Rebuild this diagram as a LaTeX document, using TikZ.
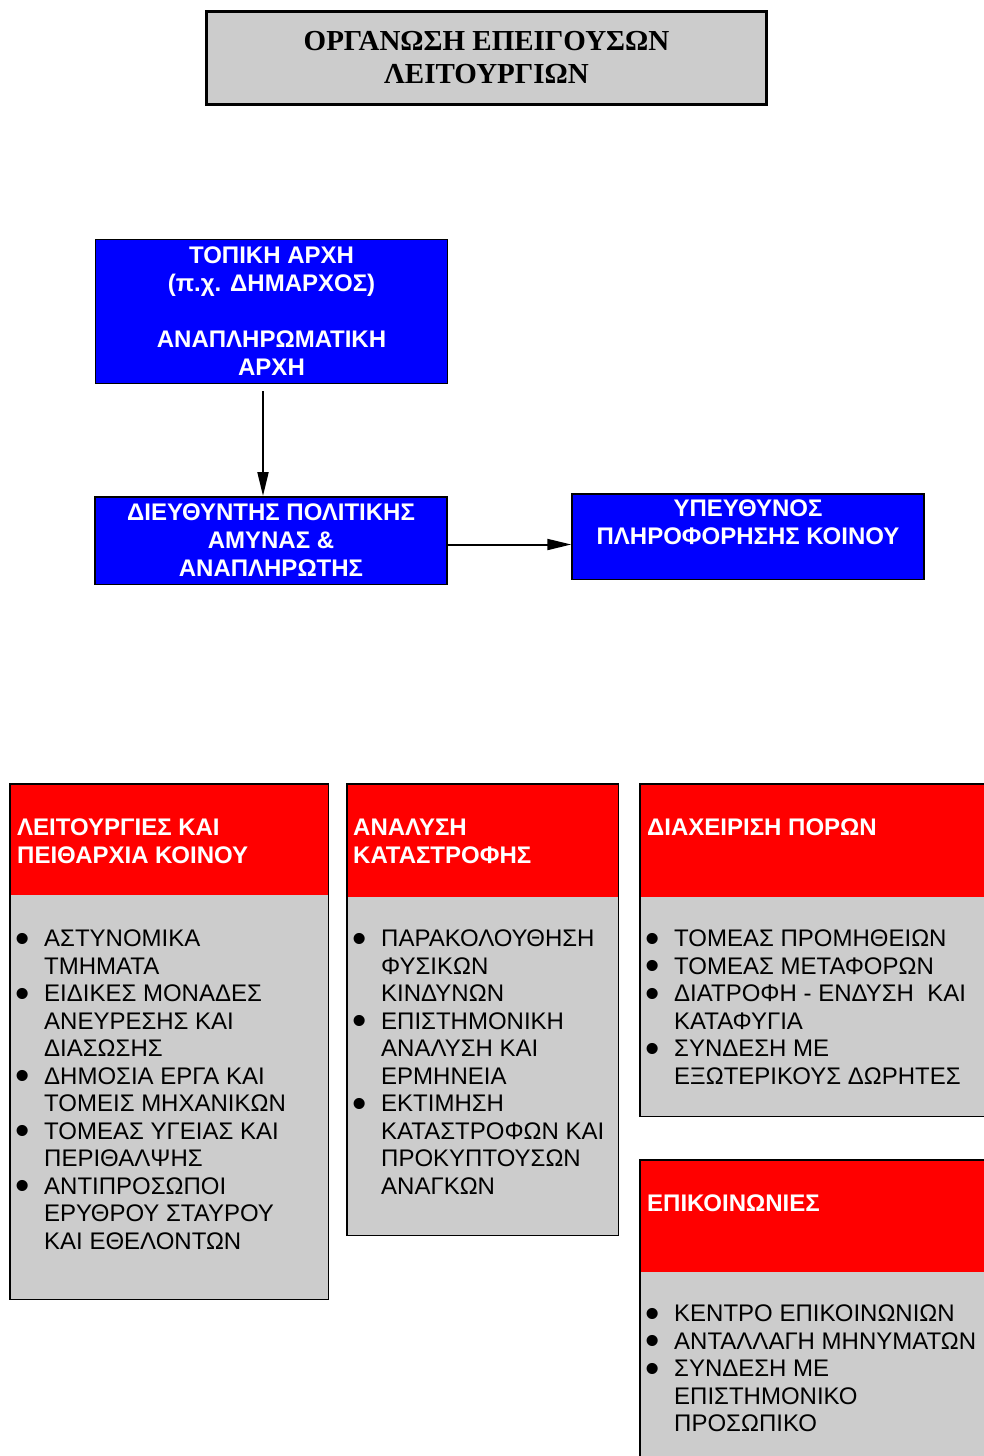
\documentclass[tikz,border=0pt]{standalone}
\usepackage{fontspec}
\setmainfont{Liberation Serif}
\setsansfont{Liberation Sans}
\usepackage{graphicx}
\usepackage{tikz}
\definecolor{gr}{RGB}{204, 204, 204}
\definecolor{bl}{RGB}{0, 0, 255}
\definecolor{rd}{RGB}{255, 0, 0}
\usetikzlibrary{arrows.meta}
\newcommand{\bul}{\makebox[26pt][l]{\hspace*{-3pt}\smash{\raisebox{-5.5pt}{\scalebox{1.7}{\textbullet}}}}}
\newcommand{\ind}{\hspace*{26pt}}

\begin{document}
\begin{tikzpicture}
			[x=1pt, y=-1pt, every node/.style={inner sep=0pt},
			bluebox/.style={draw=black, line width=1.5pt, fill=bl, text=white, align=center, minimum width=352pt, font=\sffamily\bfseries\fontsize{24}{28}\selectfont},
			panel/.style={draw=black, line width=1.5pt, fill=gr, anchor=north west},
			redhead/.style={fill=rd, anchor=north west},
			headtext/.style={anchor=north west, align=left, text=white, font=\sffamily\bfseries\fontsize{24}{28}\selectfont},
			listtext/.style={anchor=north west, align=left, text=black, font=\sffamily\fontsize{24}{27.5}\selectfont}]
			\useasboundingbox [fill=white] (0, 0) rectangle (984, 1456);
			\node (title) [draw=black, line width=3pt, fill=gr, minimum width=560pt, minimum height=93pt, align=center, font=\rmfamily\bfseries\fontsize{29}{33}\selectfont] at (486.5, 58) {ΟΡΓΑΝΩΣΗ ΕΠΕΙΓΟΥΣΩΝ\\ΛΕΙΤΟΥΡΓΙΩΝ};
			\node (loc) [bluebox, minimum height=144pt] at (271.5, 311.5) {ΤΟΠΙΚΗ ΑΡΧΗ\\(π.χ. ΔΗΜΑΡΧΟΣ)\\[28pt]ΑΝΑΠΛΗΡΩΜΑΤΙΚΗ\\ΑΡΧΗ};
			\node (dir) [bluebox, minimum height=87.5pt] at (271, 540.5) {ΔΙΕΥΘΥΝΤΗΣ ΠΟΛΙΤΙΚΗΣ\\ΑΜΥΝΑΣ \&\\ΑΝΑΠΛΗΡΩΤΗΣ};
			\node (pub) [bluebox, minimum height=85.5pt] at (748, 536.5) {ΥΠΕΥΘΥΝΟΣ\\ΠΛΗΡΟΦΟΡΗΣΗΣ ΚΟΙΝΟΥ\\\mbox{}};
			\draw [line width=2pt, -{Triangle[length=24pt, width=11pt]}] ([xshift=-8.5pt, yshift=-7pt]loc.south) to ([xshift=-8pt]dir.north);
			\draw [line width=2pt, -{Triangle[length=24pt, width=11pt]}] ([yshift=-4pt]dir.east) to ([yshift=-8pt]pub.west);
			\node (ops) [panel, minimum width=318.5pt, minimum height=515.5pt] at (9, 783) {};
			\node (opshd) [redhead, minimum width=317pt, minimum height=110.5pt] at ([xshift=1.5pt, yshift=-1.5pt]ops.north west) {};
			\node (opstx) [headtext] at ([xshift=8pt, yshift=-36pt]ops.north west) {ΛΕΙΤΟΥΡΓΙΕΣ ΚΑΙ\\ΠΕΙΘΑΡΧΙΑ ΚΟΙΝΟΥ};
			\node (opsls) [listtext] at ([xshift=9pt, yshift=-147pt]ops.north west) {\bul ΑΣΤΥΝΟΜΙΚΑ\\\ind ΤΜΗΜΑΤΑ\\\bul ΕΙΔΙΚΕΣ ΜΟΝΑΔΕΣ\\\ind ΑΝΕΥΡΕΣΗΣ ΚΑΙ\\\ind ΔΙΑΣΩΣΗΣ\\\bul ΔΗΜΟΣΙΑ ΕΡΓΑ ΚΑΙ\\\ind ΤΟΜΕΙΣ ΜΗΧΑΝΙΚΩΝ\\\bul ΤΟΜΕΑΣ ΥΓΕΙΑΣ ΚΑΙ\\\ind ΠΕΡΙΘΑΛΨΗΣ\\\bul ΑΝΤΙΠΡΟΣΩΠΟΙ\\\ind ΕΡΥΘΡΟΥ ΣΤΑΥΡΟΥ\\\ind ΚΑΙ ΕΘΕΛΟΝΤΩΝ};
			\node (ana) [panel, minimum width=271.5pt, minimum height=451.5pt] at (346, 783) {};
			\node (anahd) [redhead, minimum width=270pt, minimum height=112.5pt] at ([xshift=1.5pt, yshift=-1.5pt]ana.north west) {};
			\node (anatx) [headtext] at ([xshift=7pt, yshift=-36pt]ana.north west) {ΑΝΑΛΥΣΗ\\ΚΑΤΑΣΤΡΟΦΗΣ};
			\node (anals) [listtext] at ([xshift=9pt, yshift=-147pt]ana.north west) {\bul ΠΑΡΑΚΟΛΟΥΘΗΣΗ\\\ind ΦΥΣΙΚΩΝ\\\ind ΚΙΝΔΥΝΩΝ\\\bul ΕΠΙΣΤΗΜΟΝΙΚΗ\\\ind ΑΝΑΛΥΣΗ ΚΑΙ\\\ind ΕΡΜΗΝΕΙΑ\\\bul ΕΚΤΙΜΗΣΗ\\\ind ΚΑΤΑΣΤΡΟΦΩΝ ΚΑΙ\\\ind ΠΡΟΚΥΠΤΟΥΣΩΝ\\\ind ΑΝΑΓΚΩΝ};
			\node (res) [panel, minimum width=360pt, minimum height=332.5pt] at (639, 783) {};
			\node (reshd) [redhead, minimum width=358.5pt, minimum height=112.5pt] at ([xshift=1.5pt, yshift=-1.5pt]res.north west) {};
			\node (restx) [headtext] at ([xshift=8pt, yshift=-36pt]res.north west) {ΔΙΑΧΕΙΡΙΣΗ ΠΟΡΩΝ};
			\node (resls) [listtext] at ([xshift=9pt, yshift=-147pt]res.north west) {\bul ΤΟΜΕΑΣ ΠΡΟΜΗΘΕΙΩΝ\\\bul ΤΟΜΕΑΣ ΜΕΤΑΦΟΡΩΝ\\\bul ΔΙΑΤΡΟΦΗ - ΕΝΔΥΣΗ\ \ ΚΑΙ\\\ind ΚΑΤΑΦΥΓΙΑ\\\bul ΣΥΝΔΕΣΗ ΜΕ\\\ind ΕΞΩΤΕΡΙΚΟΥΣ ΔΩΡΗΤΕΣ};
			\node (com) [panel, minimum width=360pt, minimum height=320pt] at (639, 1159) {};
			\node (comhd) [redhead, minimum width=358.5pt, minimum height=111.5pt] at ([xshift=1.5pt, yshift=-1.5pt]com.north west) {};
			\node (comtx) [headtext] at ([xshift=8pt, yshift=-36pt]com.north west) {ΕΠΙΚΟΙΝΩΝΙΕΣ};
			\node (comls) [listtext] at ([xshift=9pt, yshift=-146pt]com.north west) {\bul ΚΕΝΤΡΟ ΕΠΙΚΟΙΝΩΝΙΩΝ\\\bul ΑΝΤΑΛΛΑΓΗ ΜΗΝΥΜΑΤΩΝ\\\bul ΣΥΝΔΕΣΗ ΜΕ\\\ind ΕΠΙΣΤΗΜΟΝΙΚΟ\\\ind ΠΡΟΣΩΠΙΚΟ};
	\end{tikzpicture}
\end{document}
